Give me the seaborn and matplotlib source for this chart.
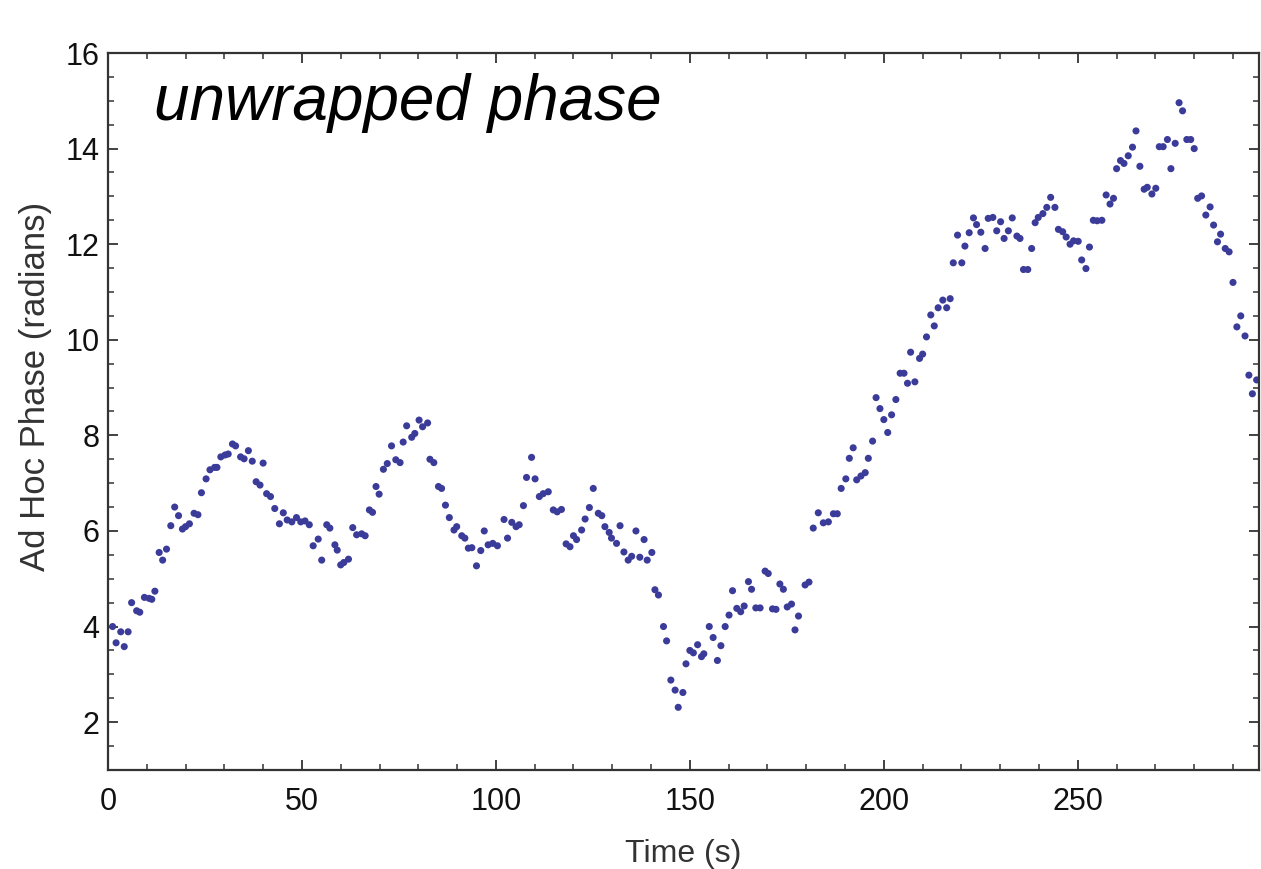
import numpy as np
import pandas as pd
import matplotlib
matplotlib.use('Agg')
import matplotlib.pyplot as plt
from matplotlib.ticker import MultipleLocator
import seaborn as sns

# values
time_s = [1.2, 2.1, 3.3, 4.2, 5.2, 6.1, 7.4, 8.2, 9.4, 10.6, 11.3, 12.1, 13.2, 14.1, 15.1,
          16.2, 17.2, 18.2, 19.2, 20.0, 21.0, 22.2, 23.2, 24.1, 25.3, 26.3, 27.5, 28.1, 29.1,
          30.2, 31.0, 32.1, 32.9, 34.2, 35.1, 36.2, 37.2, 38.2, 39.2, 40.0, 40.9, 41.9, 43.0,
          44.2, 45.2, 46.2, 47.4, 48.6, 49.7, 50.8, 51.9, 52.9, 54.2, 55.1, 56.4, 57.2, 58.5,
          59.1, 60.0, 60.8, 62.0, 63.1, 64.1, 65.4, 66.3, 67.4, 68.2, 69.1, 69.9, 71.0, 72.0,
          73.1, 74.2, 75.3, 76.1, 77.0, 78.3, 79.1, 80.2, 81.1, 82.4, 83.0, 84.0, 85.2, 86.0,
          87.0, 88.0, 89.2, 89.9, 91.2, 92.0, 92.9, 93.8, 95.0, 96.1, 97.0, 98.0, 99.2, 100.4,
          102.1, 103.0, 104.1, 105.2, 106.0, 107.1, 107.9, 109.2, 110.1, 111.2, 112.2, 113.5,
          114.8, 115.8, 116.9, 118.1, 119.1, 120.0, 120.8, 122.1, 123.0, 124.1, 125.1, 126.4,
          127.3, 128.1, 129.2, 129.8, 131.1, 132.0, 133.0, 134.1, 135.0, 136.1, 137.1, 138.2,
          139.0, 140.2, 141.0, 141.9, 143.2, 144.0, 145.1, 146.2, 147.0, 148.2, 149.0, 150.0,
          150.9, 152.0, 153.0, 153.6, 155.0, 156.0, 157.1, 158.0, 159.1, 160.1, 161.0, 162.1,
          163.1, 164.0, 165.1, 165.9, 167.0, 168.1, 169.4, 170.2, 171.3, 172.2, 173.2, 174.1,
          175.1, 176.2, 177.1, 178.0, 179.7, 180.7, 181.8, 183.1, 184.4, 185.7, 187.0, 188.0,
          189.0, 190.2, 191.1, 192.1, 193.0, 194.1, 195.2, 196.0, 197.1, 198.0, 199.0, 200.0,
          201.0, 202.0, 203.1, 204.2, 205.2, 206.1, 206.9, 208.0, 209.2, 210.0, 211.0, 212.1,
          213.0, 214.0, 215.2, 216.2, 217.1, 217.9, 219.0, 220.1, 220.9, 222.0, 223.1, 223.9,
          225.0, 226.1, 226.9, 228.1, 229.1, 230.1, 231.0, 232.1, 233.1, 234.3, 235.1, 236.0,
          237.1, 238.1, 239.0, 239.8, 241.0, 242.0, 243.0, 244.1, 245.0, 246.1, 247.0, 248.0,
          248.9, 250.1, 251.0, 252.1, 253.0, 254.0, 255.0, 256.2, 257.3, 258.3, 259.2, 260.0,
          261.0, 261.9, 263.0, 264.1, 265.0, 266.0, 267.1, 267.9, 269.1, 270.1, 271.0, 272.0,
          273.1, 274.0, 275.1, 276.1, 277.0, 278.1, 279.1, 280.0, 280.9, 281.9, 283.0, 284.1,
          285.0, 286.0, 286.8, 288.0, 289.0, 290.0, 291.0, 292.0, 293.1, 294.1, 295.0, 296.1]

phase_rad = [4.00, 3.66, 3.89, 3.58, 3.89, 4.50, 4.33, 4.30, 4.61, 4.59, 4.57, 4.74, 5.55, 5.39, 5.62,
             6.11, 6.50, 6.32, 6.04, 6.09, 6.15, 6.37, 6.34, 6.80, 7.09, 7.28, 7.33, 7.33, 7.55,
             7.59, 7.61, 7.82, 7.78, 7.55, 7.51, 7.68, 7.46, 7.03, 6.96, 7.42, 6.78, 6.72, 6.47,
             6.15, 6.38, 6.23, 6.19, 6.28, 6.19, 6.21, 6.13, 5.69, 5.83, 5.39, 6.13, 6.06, 5.71,
             5.60, 5.29, 5.34, 5.41, 6.07, 5.92, 5.94, 5.90, 6.44, 6.39, 6.93, 6.77, 7.29, 7.41,
             7.78, 7.49, 7.43, 7.86, 8.20, 7.96, 8.04, 8.32, 8.18, 8.26, 7.50, 7.43, 6.93, 6.89,
             6.54, 6.28, 6.02, 6.09, 5.90, 5.85, 5.64, 5.65, 5.27, 5.59, 6.00, 5.71, 5.74, 5.69,
             6.24, 5.85, 6.18, 6.09, 6.13, 6.53, 7.12, 7.54, 7.09, 6.72, 6.78, 6.82,
             6.44, 6.40, 6.45, 5.73, 5.67, 5.90, 5.82, 6.02, 6.25, 6.49, 6.89, 6.37,
             6.32, 6.09, 5.97, 5.85, 5.74, 6.11, 5.56, 5.39, 5.47, 6.00, 5.45, 5.82,
             5.39, 5.55, 4.77, 4.66, 4.00, 3.70, 2.88, 2.67, 2.31, 2.62, 3.22, 3.50,
             3.45, 3.62, 3.37, 3.43, 4.00, 3.77, 3.29, 3.60, 4.00, 4.24, 4.75, 4.38,
             4.31, 4.43, 4.94, 4.78, 4.39, 4.39, 5.16, 5.11, 4.37, 4.36, 4.89, 4.78,
             4.41, 4.47, 3.93, 4.22, 4.87, 4.93, 6.06, 6.38, 6.17, 6.19, 6.36, 6.36,
             6.89, 7.09, 7.52, 7.74, 7.07, 7.15, 7.22, 7.52, 7.88, 8.79, 8.56, 8.33,
             8.06, 8.43, 8.75, 9.30, 9.30, 9.09, 9.74, 9.12, 9.61, 9.70, 10.06, 10.52,
             10.29, 10.67, 10.83, 10.67, 10.86, 11.61, 12.19, 11.61, 11.96, 12.24, 12.55, 12.41,
             12.25, 11.91, 12.54, 12.56, 12.28, 12.47, 12.12, 12.28, 12.55, 12.17, 12.12, 11.47,
             11.47, 11.91, 12.45, 12.56, 12.64, 12.77, 12.98, 12.77, 12.31, 12.26, 12.15, 12.00,
             12.07, 12.06, 11.67, 11.49, 11.94, 12.50, 12.49, 12.50, 13.03, 12.84, 12.96, 13.58,
             13.75, 13.69, 13.85, 14.03, 14.37, 13.63, 13.15, 13.19, 13.05, 13.17, 14.04, 14.04,
             14.19, 13.58, 14.11, 14.96, 14.79, 14.19, 14.19, 14.00, 12.96, 13.01, 12.61, 12.78,
             12.40, 12.05, 12.21, 11.91, 11.84, 11.20, 10.27, 10.50, 10.08, 9.26, 8.87, 9.16]

df = pd.DataFrame({'Time (s)': time_s, 'Phase': phase_rad})

sns.set_style('ticks')
plt.rcParams['font.family'] = ['Liberation Sans', 'DejaVu Sans']

fig = plt.figure(figsize=(12.61, 8.69), dpi=100)
ax = fig.add_axes([0.0856, 0.114, 0.9128, 0.825])

sns.scatterplot(data=df, x='Time (s)', y='Phase', color='#3b3b9a', s=26,
                edgecolor='none', ax=ax)

ax.set_xlim(0, 296.7)
ax.set_ylim(1, 16)
ax.xaxis.set_major_locator(MultipleLocator(50))
ax.xaxis.set_minor_locator(MultipleLocator(10))
ax.yaxis.set_major_locator(MultipleLocator(2))
ax.yaxis.set_minor_locator(MultipleLocator(0.5))
ax.tick_params(which='both', direction='in', top=True, right=True,
               labeltop=False, labelright=False, color='#333333')
ax.tick_params(which='major', length=7, width=1.3, labelsize=22, labelcolor='#111111')
ax.tick_params(axis='x', which='major', pad=12)
ax.tick_params(axis='y', which='major', pad=6)
ax.tick_params(which='minor', length=4.5, width=1.1)
for sp in ax.spines.values():
    sp.set_visible(True)
    sp.set_color('#333333')
    sp.set_linewidth(1.6)

ax.set_xlabel('Time (s)', fontsize=23, color='#333333', labelpad=16)
ax.set_ylabel('Ad Hoc Phase (radians)', fontsize=25, color='#333333')
ax.yaxis.set_label_coords(-0.049, 0.535)

ax.text(0.04, 0.93, 'unwrapped phase', transform=ax.transAxes, fontsize=46,
        style='italic', color='black', va='center', ha='left')

fig.savefig('out.png', dpi=100)
